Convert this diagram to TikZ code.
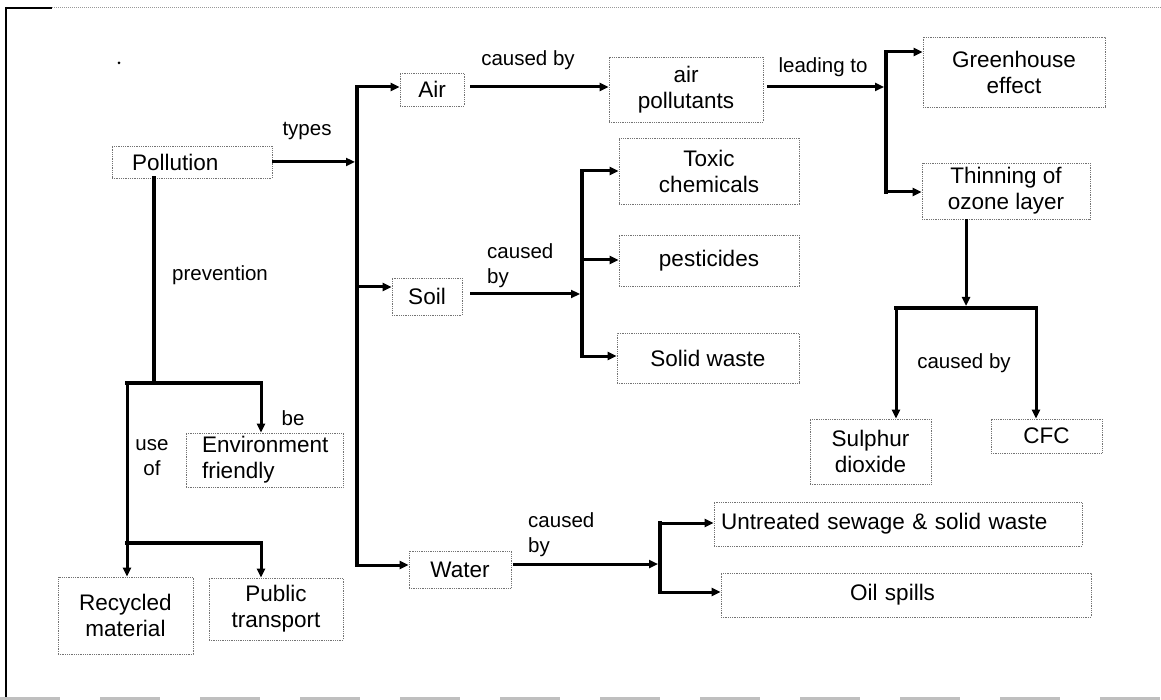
\documentclass[tikz,border=0pt]{standalone}
\usepackage{fontspec}
\setmainfont{Liberation Sans}
\usetikzlibrary{arrows.meta}
\begin{document}
\begin{tikzpicture}[x=1pt,y=-1pt,
  bx/.style={draw=black!55, densely dotted, line width=0.8pt, inner sep=0pt, align=center,
    font=\fontsize{22.5}{26}\selectfont},
  bxl/.style={bx, align=left},
  lbl/.style={inner sep=0pt, align=center, font=\fontsize{20.5}{25}\selectfont},
  arr/.style={line width=3pt, -{Triangle[length=9pt,width=8pt]}},
  bar/.style={line width=4pt, line cap=rect}]
\useasboundingbox (0,0) rectangle (1161,700);
% frame
\draw[line width=2pt] (6,8) -- (52,8);
\draw[line width=2pt] (6,7) -- (6,700);
\draw[black!40, densely dotted, line width=1pt] (52,8) -- (1161,8);
\draw[black!25, line width=2.5pt, dash pattern=on 60pt off 40pt] (0,698.5) -- (1161,698.5);
\fill (119,63) circle (1.5pt);
% boxes
\node[bxl, minimum width=160pt, minimum height=32pt, inner xsep=20pt, text width=120pt] (poll) at (192,162) {Pollution};
\node[bx, minimum width=64pt, minimum height=33pt] (air) at (432,89.5) {Air};
\node[bx, minimum width=70pt, minimum height=37pt] (soil) at (427,296.5) {Soil};
\node[bx, minimum width=102pt, minimum height=37pt] (water) at (460,569.5) {Water};
\node[bx, minimum width=154pt, minimum height=65pt] (airpol) at (686,89.5) {air\\pollutants};
\node[bx, minimum width=180pt, minimum height=66pt] (toxic) at (709,171) {Toxic\\chemicals};
\node[bx, minimum width=180pt, minimum height=51pt] (pest) at (709,260.5) {pesticides};
\node[bx, minimum width=182pt, minimum height=50pt] (solid) at (708,358) {Solid waste};
\node[bx, minimum width=182pt, minimum height=70pt] (green) at (1014,72) {Greenhouse\\effect};
\node[bx, minimum width=168pt, minimum height=56pt] (thin) at (1006,191) {Thinning of\\ozone layer};
\node[bx, minimum width=121pt, minimum height=65pt] (sulph) at (870.5,451.5) {Sulphur\\dioxide};
\node[bx, minimum width=111pt, minimum height=34pt] (cfc) at (1046.5,436) {CFC};
\node[bxl, minimum width=368pt, minimum height=44pt, inner xsep=7pt, text width=354pt] (untr) at (898,524) {Untreated sewage \& solid waste};
\node[bxl, minimum width=370pt, minimum height=44pt, inner xsep=129pt, text width=112pt] (oil) at (906,595) {Oil spills};
\node[bxl, minimum width=157pt, minimum height=54pt, inner xsep=16pt, text width=125pt] (env) at (264.5,460) {Environment\\friendly};
\node[bx, minimum width=135pt, minimum height=77pt] (recyc) at (125.5,615.5) {Recycled\\material};
\node[bx, minimum width=134pt, minimum height=62pt] (pub) at (276,609) {Public\\transport};
% labels
\node[lbl] (lTypes) at (307,131) {types};
\node[lbl] (lC1) at (528,60) {caused by};
\node[lbl] (lLead) at (823,67) {leading to};
\node[lbl, align=left, anchor=west] (lC2) at (487,266) {caused\\by};
\node[lbl] (lC3) at (964,363) {caused by};
\node[lbl] (lPrev) at (220,275) {prevention};
\node[lbl] (lBe) at (293,418) {be};
\node[lbl] (lUse) at (152,458) {use\\of};
\node[lbl, align=left, anchor=west] (lC4) at (528,535) {caused\\by};
% trunk
\coordinate (tA) at (357,87);
\coordinate (tP) at (357,162);
\coordinate (tS) at (357,287);
\coordinate (tW) at (357,565);
\draw[bar] (tA) -- (tW);
\draw[arr, shorten >=2pt] (poll.east) -- (tP);
\draw[arr] (tA) -- (tA -| air.west);
\draw[arr] (tS) -- (tS -| soil.west);
\draw[arr] (tW) -- (tW -| water.west);
% air chain
\coordinate (bA) at (886,87);
\coordinate (bG) at (886,52);
\coordinate (bT) at (886,192);
\draw[arr, shorten <=6pt] (tA -| air.east) -- (tA -| airpol.west);
\draw[arr, shorten <=4pt, shorten >=2pt] (tA -| airpol.east) -- (bA);
\draw[bar] (bG) -- (bT);
\draw[arr] (bG) -- (bG -| green.west);
\draw[arr] (bT) -- (bT -| thin.west);
% ozone causes
\coordinate (oz) at (966,306);
\coordinate (cL) at (896,308);
\coordinate (cR) at (1036,308);
\draw[arr] (oz |- thin.south) -- (oz);
\draw[bar] (cL) -- (cR);
\draw[arr] (cL) -- (cL |- sulph.north);
\draw[arr] (cR) -- (cR |- cfc.north);
% soil chain
\coordinate (sB) at (582,294);
\coordinate (sT) at (582,171);
\coordinate (sP) at (582,260);
\coordinate (sW) at (582,356);
\draw[arr, shorten <=8pt, shorten >=2pt] (sB -| soil.east) -- (sB);
\draw[bar] (sT) -- (sW);
\draw[arr] (sT) -- (sT -| toxic.west);
\draw[arr] (sP) -- (sP -| pest.west);
\draw[arr] (sW) -- (sW -| solid.west);
% water chain
\coordinate (wB) at (660,564);
\coordinate (wU) at (660,523);
\coordinate (wO) at (660,592);
\draw[arr, shorten <=2pt, shorten >=2pt] (wB -| water.east) -- (wB);
\draw[bar] (wU) -- (wO);
\draw[arr] (wU) -- (wU -| untr.west);
\draw[arr] (wO) -- (wO -| oil.west);
% prevention
\coordinate (pB) at (154,383);
\coordinate (pL) at (127,383);
\coordinate (pR) at (261,383);
\coordinate (qL) at (127,543);
\coordinate (qR) at (261,543);
\draw[bar] (pB |- poll.south) -- (pB);
\draw[bar] (pL) -- (pR);
\draw[arr] (pR) -- (pR |- env.north);
\draw[arr] (pL) -- (pL |- recyc.north);
\draw[bar] (qL) -- (qR);
\draw[arr] (qR) -- (qR |- pub.north);
\end{tikzpicture}
\end{document}
